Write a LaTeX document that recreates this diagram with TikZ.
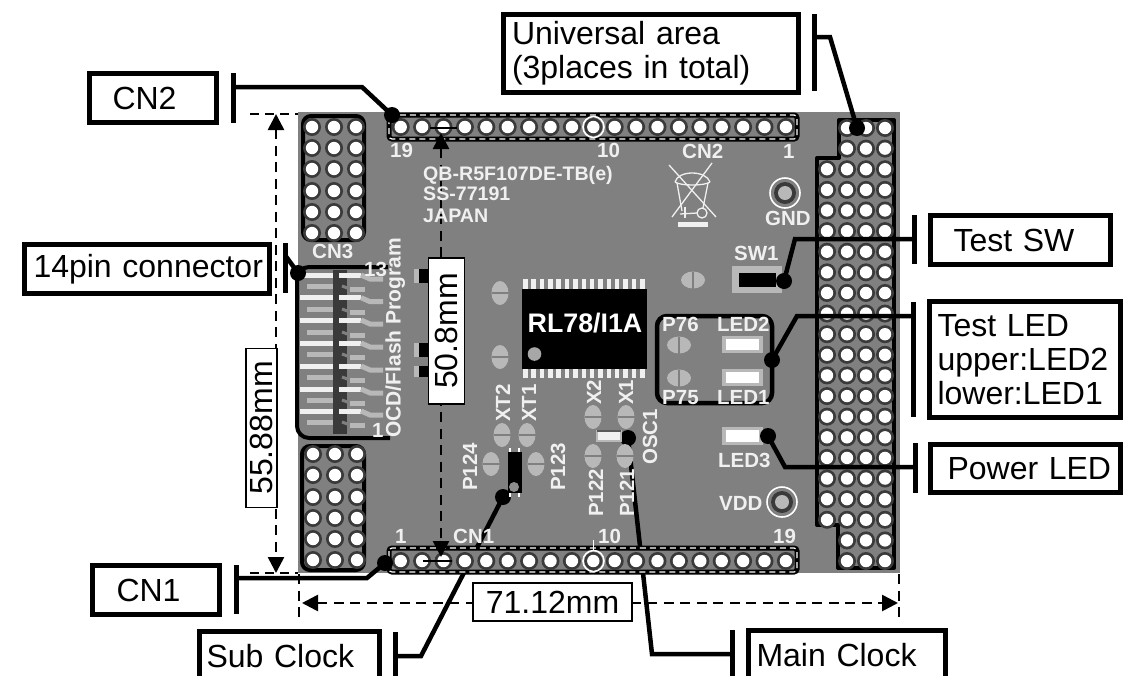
\documentclass[tikz,border=0pt]{standalone}
\usepackage{fontspec}
\setmainfont{Liberation Sans}
\usetikzlibrary{arrows.meta}
\definecolor{board}{HTML}{808080}
\definecolor{ringc}{HTML}{3A3A3A}
\definecolor{padc}{HTML}{B8B8B8}
\definecolor{silk}{HTML}{F0F0F0}
\newcommand\holeat[2]{\fill[ringc] (#1,#2) circle[radius=9];\fill[white] (#1,#2) circle[radius=6.2];}
\newcommand\padv[2]{\fill[padc] (#1,#2) ellipse[x radius=8.5,y radius=12];\draw[board,line width=1.3] ({#1-8.5},#2)--({#1+8.5},#2);}
\newcommand\padh[2]{\fill[padc] (#1,#2) ellipse[x radius=12,y radius=8.5];\draw[board,line width=1.3] (#1,{#2-8.5})--(#1,{#2+8.5});}
\newcommand\tbar[5]{\coordinate (#1) at (#2,#5);\coordinate (#1a) at (#2,#3);\coordinate (#1b) at (#2,#4);\draw[barline] (#1a)--(#1b);}
\tikzset{
 x=1pt,y=-1pt,
 leader/.style={line width=4.5pt,black,line join=miter},
 barline/.style={line width=5pt,black},
 dot/.style={circle,fill=black,minimum size=16pt,inner sep=0pt},
 lbox/.style={draw=black,line width=5pt,fill=white,inner sep=0pt,outer sep=0pt,anchor=center,font=\fontsize{32}{34}\selectfont,align=left},
 dimbox/.style={draw=black,line width=1.6pt,fill=white,inner sep=0pt,outer sep=0pt,font=\fontsize{32}{34}\selectfont},
 dimline/.style={line width=2.6pt,black,dash pattern=on 10pt off 6.5pt},
 dimarrow/.style={dimline,{Triangle[length=16pt,width=16pt]}-{Triangle[length=16pt,width=16pt]}},
 silktext/.style={text=silk,font=\fontsize{20.5}{22}\selectfont\bfseries,inner sep=0pt,anchor=base west},
 silkrot/.style={silktext,rotate=90},
 pinw/.style={line width=5pt,silk},
 pinp/.style={line width=5pt,padc},
}
\begin{document}
\begin{tikzpicture}
\useasboundingbox (0,0) rectangle (1123,675);
\clip (0,0) rectangle (1123,675);
\fill[white] (0,0) rectangle (1123,675);
% board
\fill[board] (298,112) rectangle (900,573);
% leaders that pass under the board parts
\node[dot] (dSub) at (503,497) {};
\node[dot] (dMain) at (628,438) {};
\tbar{tSub}{395}{632}{680}{656}
\tbar{tMain}{732}{630}{680}{654}
\coordinate (kSub) at (421,656);
\coordinate (kMain) at (652,654);
\draw[leader] (tSub)--(kSub)--(dSub.center);
\draw[leader] (tMain)--(kMain)--(dMain.center);
% pads
\padv{500}{293}\padv{500}{357}\padh{693}{280}\padh{679}{345}\padh{679}{378}
\padv{593}{417}\padv{626}{417}\padv{502}{435}\padv{527}{435}
\padv{491}{464}\padv{536}{464}\padv{593}{456}\padv{625}{456}
% left hole blocks
\draw[line width=4pt,black,fill=board,rounded corners=8pt] (303,116) rectangle (364,240);
\draw[line width=4pt,black,fill=board,rounded corners=8pt] (302,446) rectangle (364,570);
\foreach \x in {312,334,356}{\foreach \y in {127,148,169,191,212,233}{\holeat{\x}{\y}}}
\foreach \x in {313,335,357}{\foreach \y in {454,475,497,518,539,560}{\holeat{\x}{\y}}}
% right universal area
\draw[line width=4pt,black,fill=board,line join=round] (839,120)--(894,120)--(894,568)--(838,568)--(838,525)--(817,525)--(817,158)--(839,158)--cycle;
\foreach \i in {0,...,21}{
  \pgfmathsetmacro\yy{128+\i*20.62}
  \foreach \x in {847,866,885}{\holeat{\x}{\yy}}
  \ifnum\i>1 \ifnum\i<20 \holeat{827}{\yy}\fi\fi
}
% pin strips
\foreach \yy/\yb in {115/139,548/572}{
  \draw[line width=5pt,black,fill=board,rounded corners=3pt] (389,\yy) rectangle (797,\yb);
  \draw[line width=1.2pt,white,dash pattern=on 6pt off 4pt,rounded corners=3pt] (389,\yy) rectangle (797,\yb);
}
\foreach \i in {0,...,18}{
  \pgfmathsetmacro\xx{400.7+\i*21.4}
  \holeat{\xx}{127}\holeat{\xx}{561}
}
\draw[white,line width=1.6pt] (593.5,127) circle[radius=10.5];
\draw[white,line width=1.6pt] (593.5,561) circle[radius=10.5];
\draw[white,line width=1.2pt] (593.5,540)--(593.5,551);
\draw[black,line width=1.6pt] (430,128)--(457,128);
\draw[black,line width=1.6pt] (423,561)--(452,561);
% CN3 connector
\draw[line width=4pt,black,rounded corners=12pt,fill=board] (388,267)--(297,267)--(297,438)--(390,438);
\fill[ringc] (333,270) rectangle (347,434);
\foreach \y in {275,297.7,320,343,366,389,411}{
  \draw[pinw] (300,\y)--(333,\y);
  \draw[pinw] (339,\y)--(361,\y);
  \draw[pinp] (361,\y)--(370,\y+4)--(383,\y+4);
}
\foreach \y in {286,309,332,354,377,400,422}{
  \draw[pinp] (307,\y)--(333,\y);
  \draw[line width=3pt,gray] (342,\y)--(350,\y+3);
  \draw[pinp] (350,\y+3)--(365,\y+3);
}
% chip
\foreach \i in {0,...,14}{
  \fill[silk] ({523+\i*8.36},279) rectangle ({527.5+\i*8.36},378);
}
\fill[black] (522,289) rectangle (647,369);
\fill[padc!70!gray] (534.5,354) circle[radius=6.8];
\node[inner sep=0pt,text=white,font=\fontsize{26.8}{28}\selectfont\bfseries] (chipname) at (585,323) {RL78/I1A};
% sub clock part
\fill[black] (508,452) rectangle (522,493);
\fill[board!110!black] (514,487) circle[radius=5];
\fill[white] (509,448) rectangle (511,452);\fill[white] (518,448) rectangle (520,452);
\fill[white] (509,493) rectangle (511,497);\fill[white] (518,493) rectangle (520,497);
% main clock part
\draw[draw=padc,fill=silk,line width=1.2pt] (597,431) rectangle (621,441);
\draw[gray!70!black,line width=2pt] (597,431)--(621,431);
% LEDs
\foreach \yt/\yb in {336/353,369/386,427/445}{
  \fill[padc] (722,\yt) rectangle (763,\yb);
  \fill[white] (726,\yt+3) rectangle (759,\yb-3);
}
\draw[line width=4.5pt,black,rounded corners=10pt] (657,316) rectangle (772,403);
% SW1
\fill[padc] (732,266) rectangle (782,293);
\fill[black] (739,273) rectangle (776,287);
% GND, VDD test points
\foreach \x/\y in {785/193,782/502}{
  \draw[white,line width=1.6pt] (\x,\y) circle[radius=15];
  \fill[ringc] (\x,\y) circle[radius=11];
  \fill[padc] (\x,\y) circle[radius=7];
}
% bin symbol
\begin{scope}[silk,line width=1.3pt]
\draw (669,165)--(716,217);\draw (712,163)--(672,217);
\draw (675,182) .. controls (678,170) and (706,170) .. (710,182);
\draw (675,182) .. controls (680,186) and (705,186) .. (710,182);
\draw (677,183)--(682,211);\draw (708,183)--(703,208);
\draw (702,213) circle[radius=5];
\draw (680,214)--(697,213);\draw (685,207)--(685,218);
\fill (678,222) rectangle (708,227);
\end{scope}
% pads beside the 50.8 label
\foreach \yt/\yb in {269/283,343/357,366/377}{
  \fill[padc] (414,\yt) rectangle (419,\yb);
  \fill[black] (419,\yt) rectangle (429,\yb);
}
% dimensions
\coordinate (v1) at (276,114);\coordinate (v2) at (276,573);
\coordinate (c1) at (250,114);\coordinate (c2) at (298,114);
\coordinate (c3) at (250,573);\coordinate (c4) at (298,573);
\draw[line width=2.6pt,dash pattern=on 9pt off 6pt] (c1)--(c2);
\draw[line width=2.6pt,dash pattern=on 9pt off 6pt] (c3)--(c4);
\draw[dimarrow] (v1)--(v2);
\coordinate (h1) at (302,603);\coordinate (h2) at (898,603);
\draw[dimarrow] (h1)--(h2);
\coordinate (e1) at (299,574);\coordinate (e2) at (299,620);
\coordinate (e3) at (899,574);\coordinate (e4) at (899,620);
\draw[dimline] (e1)--(e2);\draw[dimline] (e3)--(e4);
\coordinate (m1) at (441,133);\coordinate (m2) at (441,557);
\draw[dimarrow] (m1)--(m2);
\node[dimbox,minimum width=31pt,minimum height=159pt] (d5588) at (261.5,428) {};
\node[rotate=90,inner sep=0pt,font=\fontsize{32}{34}\selectfont] (t5588) at (261.5,428) {55.88mm};
\node[dimbox,minimum width=36pt,minimum height=146pt] (d508) at (446.5,331) {};
\node[rotate=90,inner sep=0pt,font=\fontsize{32}{34}\selectfont] (t508) at (446.5,331) {50.8mm};
\node[dimbox,minimum width=159pt,minimum height=38pt] (d7112) at (552.5,602) {71.12mm};
% leaders on top
\node[dot] (dUni) at (857,128) {};
\node[dot] (dCN2) at (392,115) {};
\node[dot] (dCN1) at (385,563) {};
\node[dot] (dPin) at (298,273) {};
\node[dot] (dSW) at (784,281) {};
\node[dot] (dLED) at (772,360) {};
\node[dot] (dPow) at (768,436) {};
\tbar{tUni}{814}{14}{91}{37}
\tbar{tCN2}{233}{73}{123}{87}
\tbar{tCN1}{236}{565}{614}{578}
\tbar{tPin}{285}{243}{293}{255}
\tbar{tSW}{914}{215}{264}{239}
\tbar{tLED}{913}{302}{417}{316}
\tbar{tPow}{915}{443}{493}{467}
\coordinate (kUni) at (830,37);\coordinate (kCN2) at (362,87);\coordinate (kCN1) at (367,578);
\coordinate (kSW) at (795,239);\coordinate (kLED) at (797,316);\coordinate (kPow) at (785,467);
\draw[leader] (tUni)--(kUni)--(dUni.center);
\draw[leader] (tCN2)--(kCN2)--(dCN2.center);
\draw[leader] (tCN1)--(kCN1)--(dCN1.center);
\draw[leader] (tPin)--(dPin.center);
\draw[leader] (tSW)--(kSW)--(dSW.center);
\draw[leader] (tLED)--(kLED)--(dLED.center);
\draw[leader] (tPow)--(kPow)--(dPow.center);
% label boxes
\node[lbox,minimum width=295pt,minimum height=78pt,text width=278pt] (bUni) at (651,53.5) {Universal area\\(3places in total)};
\node[lbox,minimum width=127pt,minimum height=49pt,text width=127pt] (bCN2) at (153,98) {\hspace*{23pt}\raisebox{-1pt}{CN2}};
\node[lbox,minimum width=245pt,minimum height=49pt,text width=245pt] (bPin) at (147,269) {\hspace*{9pt}\raisebox{-1pt}{14pin connector}};
\node[lbox,minimum width=127pt,minimum height=49pt,text width=127pt] (bCN1) at (156,590) {\hspace*{24pt}\raisebox{-1pt}{CN1}};
\node[lbox,minimum width=180pt,minimum height=49pt,text width=180pt] (bSub) at (289.5,656) {\hspace*{7pt}Sub Clock};
\node[lbox,minimum width=197pt,minimum height=49pt,text width=197pt] (bMain) at (847,655) {\hspace*{8pt}Main Clock};
\node[lbox,minimum width=180pt,minimum height=49pt,text width=180pt] (bSW) at (1020.5,240) {\hspace*{23pt}\raisebox{-1pt}{Test SW}};
\node[lbox,minimum width=191pt,minimum height=116pt,text width=175pt] (bLED) at (1025,359.5) {Test LED\\upper:LED2\\lower:LED1};
\node[lbox,minimum width=190pt,minimum height=48pt,text width=190pt] (bPow) at (1025.5,468.5) {\hspace*{17pt}\raisebox{-1pt}{Power LED}};
% silkscreen text
\node[silktext,font=\fontsize{19.6}{21}\selectfont\bfseries] (s1) at (423,180) {QB-R5F107DE-TB(e)};
\node[silktext,font=\fontsize{19.6}{21}\selectfont\bfseries] (s2) at (423,200) {SS-77191};
\node[silktext,font=\fontsize{19.6}{21}\selectfont\bfseries] (s3) at (423,222) {JAPAN};
\node[silktext] (s4) at (390,157) {19};
\node[silktext] (s5) at (597,157) {10};
\node[silktext] (s6) at (682,158) {CN2};
\node[silktext] (s7) at (783,158) {1};
\node[silktext] (s8) at (765,225) {GND};
\node[silktext] (s9) at (734,260) {SW1};
\node[silktext] (s10) at (662,331) {P76};
\node[silktext] (s11) at (717,331) {LED2};
\node[silktext] (s12) at (662,404) {P75};
\node[silktext] (s13) at (717,404) {LED1};
\node[silktext] (s14) at (718,467) {LED3};
\node[silktext] (s15) at (719,510) {VDD};
\node[silktext] (s16) at (395,543) {1};
\node[silktext] (s17) at (453,543) {CN1};
\node[silktext] (s18) at (598,543) {10};
\node[silktext] (s19) at (773,543) {19};
\node[silktext] (s20) at (312,258) {CN3};
\node[silktext] (s21) at (364,276) {13};
\node[silktext] (s22) at (372,437) {1};
\node[silkrot] (r1) at (510,422) {XT2};
\node[silkrot] (r2) at (536,422) {XT1};
\node[silkrot] (r3) at (601,405) {X2};
\node[silkrot] (r4) at (633,405) {X1};
\node[silkrot] (r5) at (657,465) {OSC1};
\node[silkrot] (r6) at (477,491) {P124};
\node[silkrot] (r7) at (565,491) {P123};
\node[silkrot] (r8) at (603,517) {P122};
\node[silkrot] (r9) at (634,517) {P121};
\node[silkrot,font=\fontsize{21}{23}\selectfont\bfseries] (r10) at (400.7,438) {OCD/Flash Program};
\end{tikzpicture}
\end{document}
